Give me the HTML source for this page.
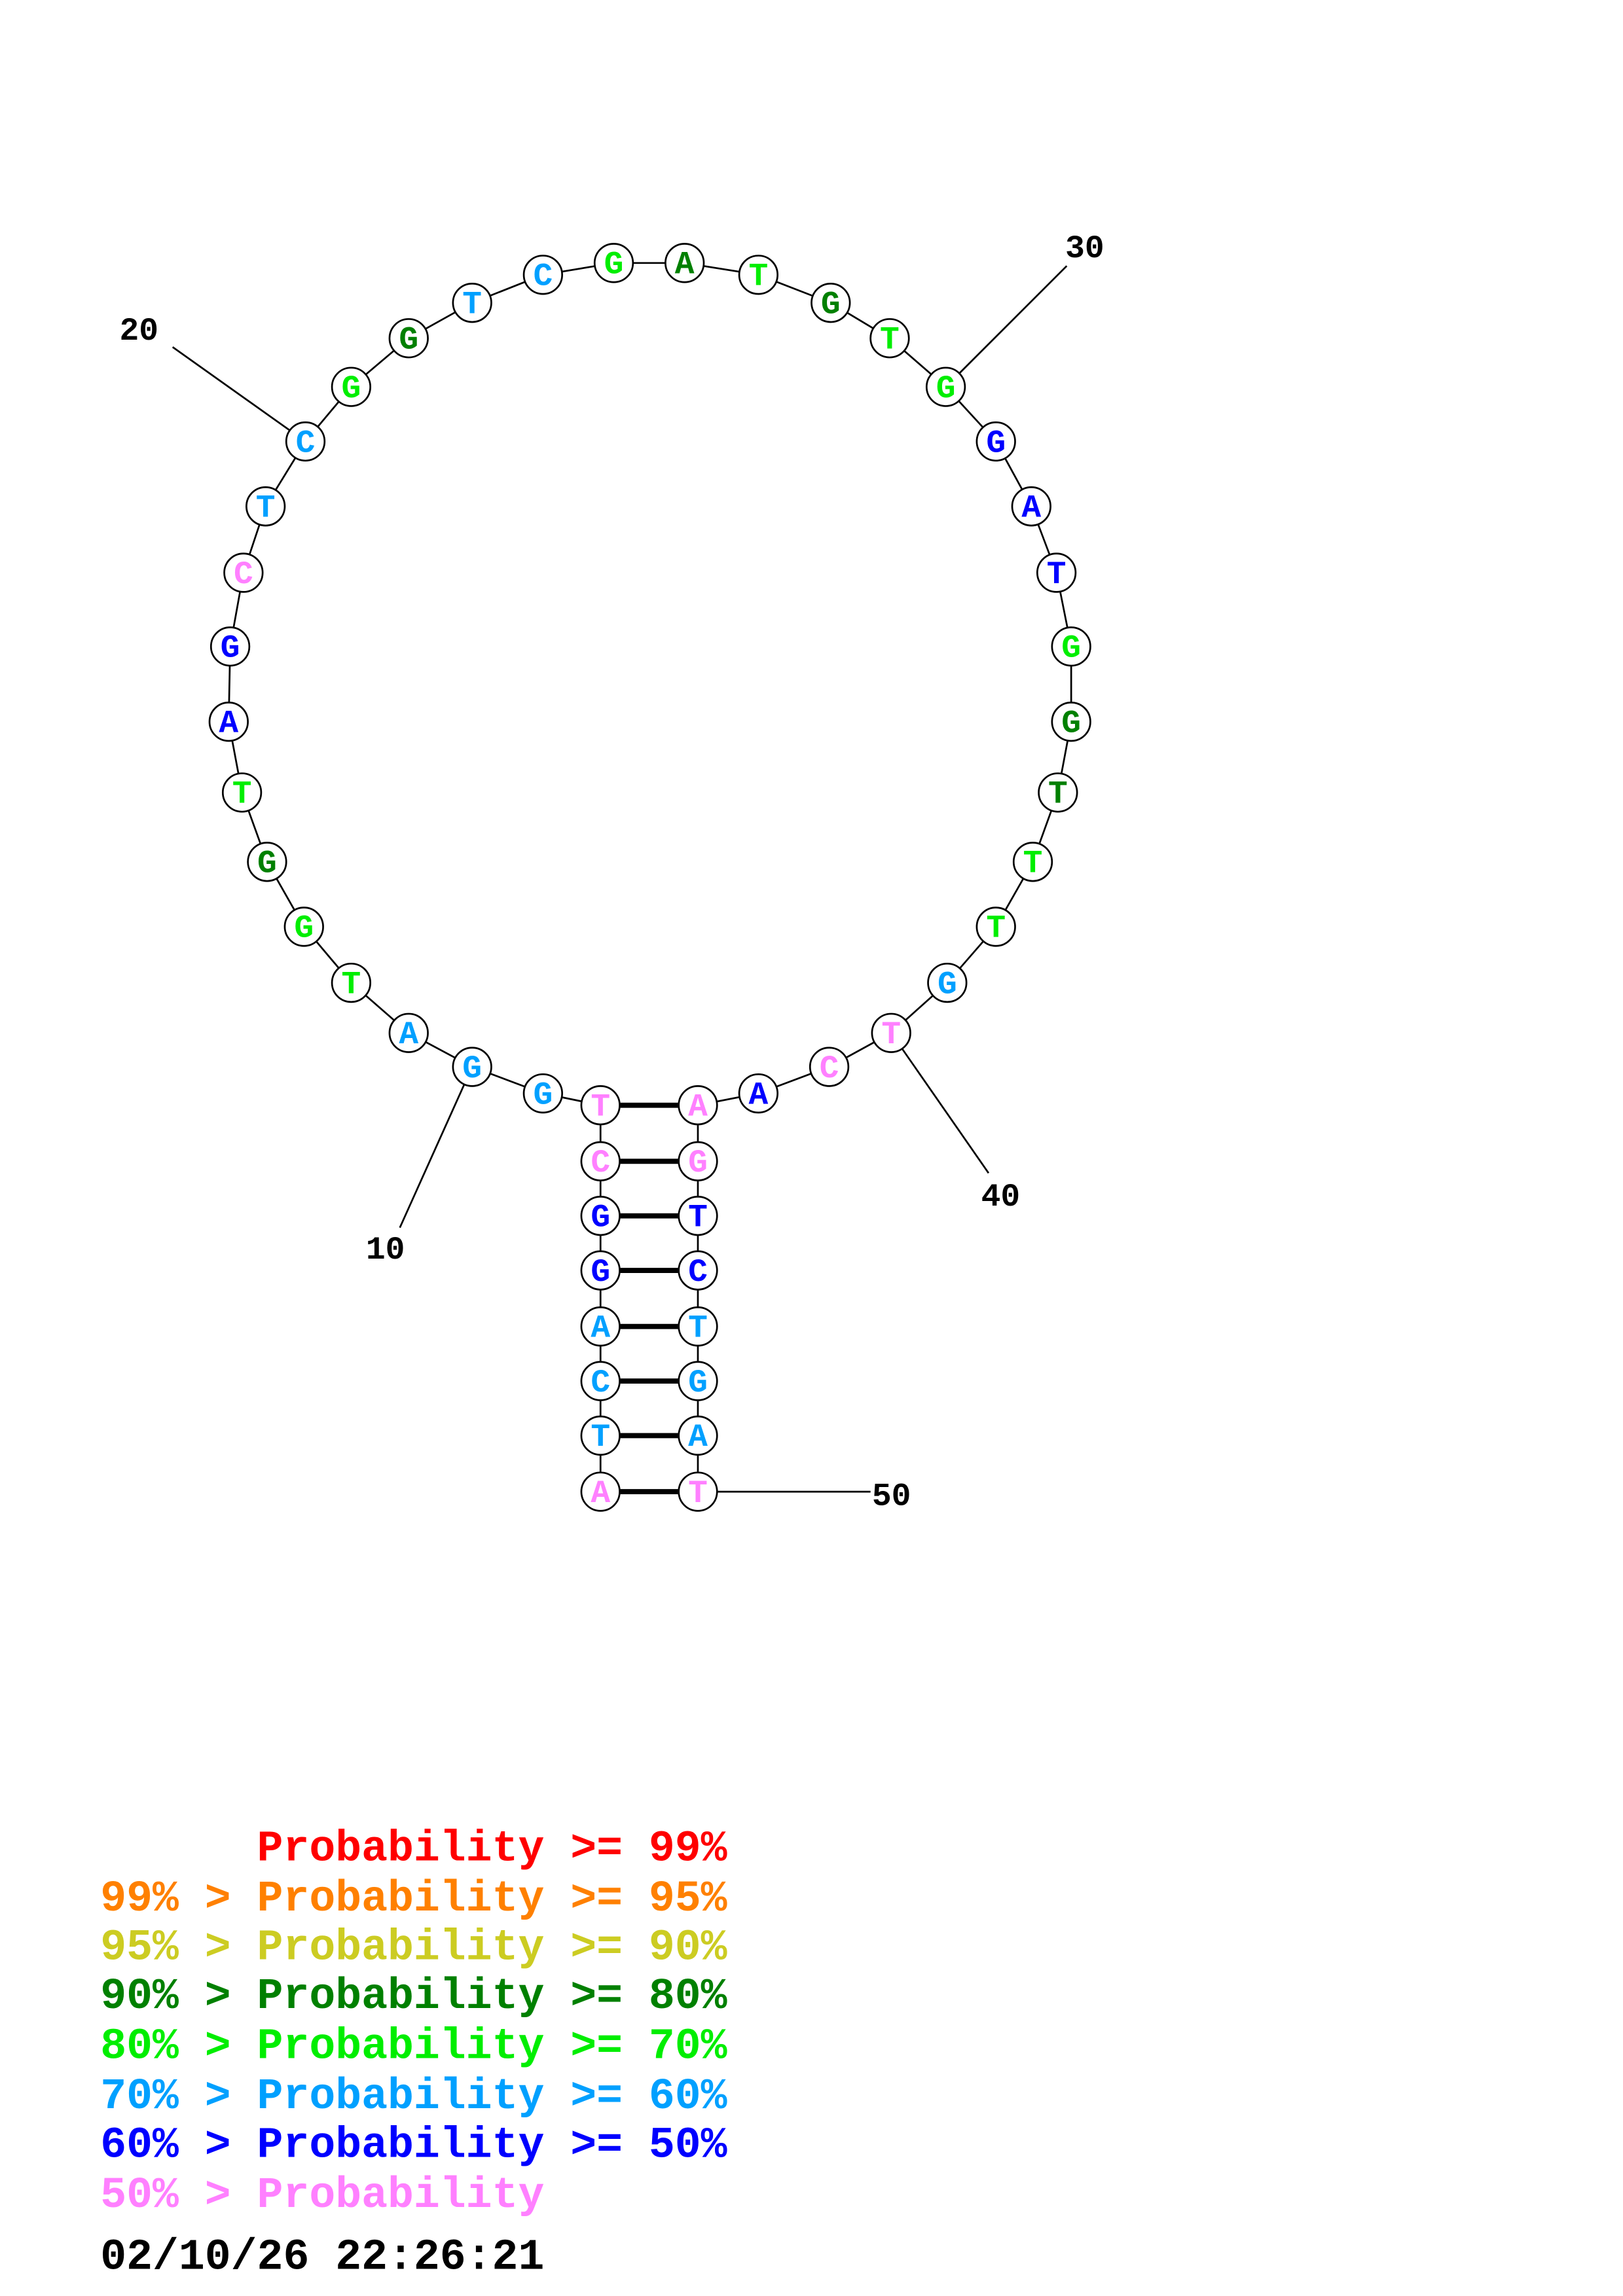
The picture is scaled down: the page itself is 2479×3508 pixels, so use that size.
<!DOCTYPE html>
<html><head><meta charset="utf-8"><style>
html,body{margin:0;padding:0;background:#fff;}
svg{display:block;}
text{font-family:"Liberation Mono","DejaVu Sans Mono",monospace;font-weight:bold;}
.n circle{fill:#fff;stroke:#000;stroke-width:1.2;}
.n text{font-size:22px;text-anchor:middle;}
.P{fill:#ff80ff}.L{fill:#00a0ff}.B{fill:#0000ff}.G{fill:#00ee00}.D{fill:#008000}
</style></head><body>
<svg width="2479" height="3508" viewBox="0 0 1100 1556" xmlns="http://www.w3.org/2000/svg">
<g stroke="#000" stroke-width="1.2">
<line x1="117" y1="235" x2="207" y2="299"/>
<line x1="723" y1="180" x2="641" y2="262"/>
<line x1="271" y1="832" x2="320" y2="723"/>
<line x1="670" y1="795" x2="604" y2="700"/>
<line x1="473" y1="1011" x2="590" y2="1011"/>
</g>
<polyline fill="none" stroke="#000" stroke-width="1.2" points="407,1011 407,973 407,936 407,899 407,861 407,824 407,787 407,749 368,741 320,723 277,700 238,666 206,628 181,584 164,537 155,489 156,438 165,388 180,343 207,299 238,262 277,229 320,205 368,186 416,178 464,178 514,186 563,205 603,229 641,262 675,299 699,343 716,388 726,438 726,489 717,537 700,584 675,628 642,666 604,700 562,723 514,741 473,749 473,787 473,824 473,861 473,899 473,936 473,973 473,1011"/>
<g stroke="#000" stroke-width="3.5">
<line x1="420" y1="749" x2="460" y2="749"/>
<line x1="420" y1="787" x2="460" y2="787"/>
<line x1="420" y1="824" x2="460" y2="824"/>
<line x1="420" y1="861" x2="460" y2="861"/>
<line x1="420" y1="899" x2="460" y2="899"/>
<line x1="420" y1="936" x2="460" y2="936"/>
<line x1="420" y1="973" x2="460" y2="973"/>
<line x1="420" y1="1011" x2="460" y2="1011"/>
</g>
<g class="n">
<circle cx="407" cy="1011" r="13"/><text x="407" y="1018" class="P">A</text>
<circle cx="407" cy="973" r="13"/><text x="407" y="980" class="L">T</text>
<circle cx="407" cy="936" r="13"/><text x="407" y="943" class="L">C</text>
<circle cx="407" cy="899" r="13"/><text x="407" y="906" class="L">A</text>
<circle cx="407" cy="861" r="13"/><text x="407" y="868" class="B">G</text>
<circle cx="407" cy="824" r="13"/><text x="407" y="831" class="B">G</text>
<circle cx="407" cy="787" r="13"/><text x="407" y="794" class="P">C</text>
<circle cx="407" cy="749" r="13"/><text x="407" y="756" class="P">T</text>
<circle cx="368" cy="741" r="13"/><text x="368" y="748" class="L">G</text>
<circle cx="320" cy="723" r="13"/><text x="320" y="730" class="L">G</text>
<circle cx="277" cy="700" r="13"/><text x="277" y="707" class="L">A</text>
<circle cx="238" cy="666" r="13"/><text x="238" y="673" class="G">T</text>
<circle cx="206" cy="628" r="13"/><text x="206" y="635" class="G">G</text>
<circle cx="181" cy="584" r="13"/><text x="181" y="591" class="D">G</text>
<circle cx="164" cy="537" r="13"/><text x="164" y="544" class="G">T</text>
<circle cx="155" cy="489" r="13"/><text x="155" y="496" class="B">A</text>
<circle cx="156" cy="438" r="13"/><text x="156" y="445" class="B">G</text>
<circle cx="165" cy="388" r="13"/><text x="165" y="395" class="P">C</text>
<circle cx="180" cy="343" r="13"/><text x="180" y="350" class="L">T</text>
<circle cx="207" cy="299" r="13"/><text x="207" y="306" class="L">C</text>
<circle cx="238" cy="262" r="13"/><text x="238" y="269" class="G">G</text>
<circle cx="277" cy="229" r="13"/><text x="277" y="236" class="D">G</text>
<circle cx="320" cy="205" r="13"/><text x="320" y="212" class="L">T</text>
<circle cx="368" cy="186" r="13"/><text x="368" y="193" class="L">C</text>
<circle cx="416" cy="178" r="13"/><text x="416" y="185" class="G">G</text>
<circle cx="464" cy="178" r="13"/><text x="464" y="185" class="D">A</text>
<circle cx="514" cy="186" r="13"/><text x="514" y="193" class="G">T</text>
<circle cx="563" cy="205" r="13"/><text x="563" y="212" class="D">G</text>
<circle cx="603" cy="229" r="13"/><text x="603" y="236" class="G">T</text>
<circle cx="641" cy="262" r="13"/><text x="641" y="269" class="G">G</text>
<circle cx="675" cy="299" r="13"/><text x="675" y="306" class="B">G</text>
<circle cx="699" cy="343" r="13"/><text x="699" y="350" class="B">A</text>
<circle cx="716" cy="388" r="13"/><text x="716" y="395" class="B">T</text>
<circle cx="726" cy="438" r="13"/><text x="726" y="445" class="G">G</text>
<circle cx="726" cy="489" r="13"/><text x="726" y="496" class="D">G</text>
<circle cx="717" cy="537" r="13"/><text x="717" y="544" class="D">T</text>
<circle cx="700" cy="584" r="13"/><text x="700" y="591" class="G">T</text>
<circle cx="675" cy="628" r="13"/><text x="675" y="635" class="G">T</text>
<circle cx="642" cy="666" r="13"/><text x="642" y="673" class="L">G</text>
<circle cx="604" cy="700" r="13"/><text x="604" y="707" class="P">T</text>
<circle cx="562" cy="723" r="13"/><text x="562" y="730" class="P">C</text>
<circle cx="514" cy="741" r="13"/><text x="514" y="748" class="B">A</text>
<circle cx="473" cy="749" r="13"/><text x="473" y="756" class="P">A</text>
<circle cx="473" cy="787" r="13"/><text x="473" y="794" class="P">G</text>
<circle cx="473" cy="824" r="13"/><text x="473" y="831" class="B">T</text>
<circle cx="473" cy="861" r="13"/><text x="473" y="868" class="B">C</text>
<circle cx="473" cy="899" r="13"/><text x="473" y="906" class="L">T</text>
<circle cx="473" cy="936" r="13"/><text x="473" y="943" class="L">G</text>
<circle cx="473" cy="973" r="13"/><text x="473" y="980" class="L">A</text>
<circle cx="473" cy="1011" r="13"/><text x="473" y="1018" class="P">T</text>
</g>
<g font-size="22" fill="#000">
<text x="81" y="230">20</text>
<text x="722" y="174">30</text>
<text x="248" y="853">10</text>
<text x="665" y="817">40</text>
<text x="591" y="1020">50</text>
</g>
<g font-size="29.5">
<text x="68" y="1261" fill="#ff0000" xml:space="preserve">      Probability &gt;= 99%</text>
<text x="68" y="1295" fill="#ff8000" xml:space="preserve">99% &gt; Probability &gt;= 95%</text>
<text x="68" y="1328" fill="#cccc22" xml:space="preserve">95% &gt; Probability &gt;= 90%</text>
<text x="68" y="1361" fill="#008000" xml:space="preserve">90% &gt; Probability &gt;= 80%</text>
<text x="68" y="1395" fill="#00ee00" xml:space="preserve">80% &gt; Probability &gt;= 70%</text>
<text x="68" y="1429" fill="#00a0ff" xml:space="preserve">70% &gt; Probability &gt;= 60%</text>
<text x="68" y="1462" fill="#0000ff" xml:space="preserve">60% &gt; Probability &gt;= 50%</text>
<text x="68" y="1496" fill="#ff80ff" xml:space="preserve">50% &gt; Probability</text>
<text x="68" y="1538" fill="#000">02/10/26 22:26:21</text>
</g>
</svg>
</body></html>
